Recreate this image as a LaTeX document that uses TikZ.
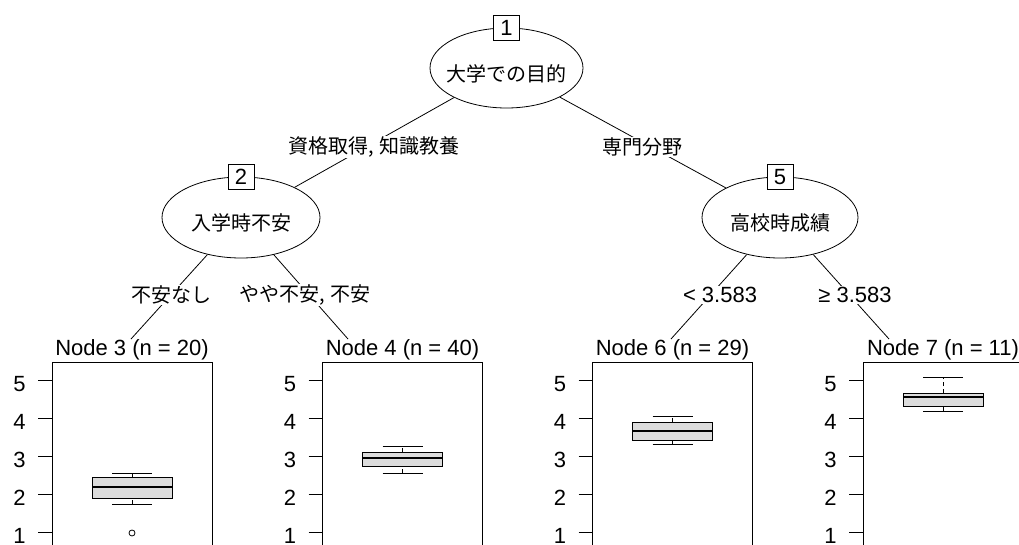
\documentclass[tikz,border=0pt]{standalone}
\usepackage{fontspec}
\setmainfont{Liberation Sans}
\newfontfamily\jp{Noto Sans CJK JP}
\usetikzlibrary{shapes.geometric}
\definecolor{boxgray}{RGB}{220,220,220}
\tikzset {
    split/.style={ellipse, draw, fill=white, inner sep=0pt,
        minimum width=156pt, minimum height=81pt,
        text height=26pt, text depth=0pt, font=\jp\fontsize{20}{24}\selectfont},
    idbox/.style={draw, fill=white, inner sep=0pt, minimum width=26pt,
        minimum height=25pt, font=\fontsize{22}{24}\selectfont},
    edgelab/.style={fill=white, inner sep=1pt},
    jplab/.style={edgelab, font=\jp\fontsize{20}{24}\selectfont},
    numlab/.style={edgelab, font=\fontsize{22}{24}\selectfont},
    paneltitle/.style={anchor=base, inner sep=0pt, font=\fontsize{22}{24}\selectfont},
    ticklab/.style={anchor=base east, inner sep=0pt, font=\fontsize{22}{24}\selectfont},
    whisk/.style={dash pattern=on 4pt off 3pt}
}
% terminal panel: name, centre x, title, lower whisker, q1, median, q3, upper whisker
\newcommand{\termpanel}[8]{%
    \node[paneltitle] (#1) at (#2,355) {#3};
    \draw ({#2-80},362) rectangle ({#2+80},560);
    \foreach \v in {1,...,5} {
        \draw ({#2-94},{570-38*\v}) -- ({#2-80},{570-38*\v});
        \node[ticklab] (#1y\v) at ({#2-106},{581-38*\v}) {\v};
    }
    \begin{scope}[shift={(#2,570)}, y=38pt]
        \draw[whisk] (0,#4) -- (0,#5) (0,#7) -- (0,#8);
        \draw (-20,#4) -- (20,#4) (-20,#8) -- (20,#8);
        \draw[fill=boxgray] (-40,#5) rectangle (40,#7);
        \draw[line width=2.5pt] (-40,#6) -- (40,#6);
    \end{scope}
}

\begin{document}
\begin{tikzpicture}[x=1pt, y=-1pt, line width=0.8pt]
    \useasboundingbox (0,0) rectangle (1019,544);

    \node[split, minimum width=153pt, minimum height=80pt] (n1) at (506.5,68) {\makebox[0pt]{大学での目的}};
    \node[split, minimum width=158pt] (n2) at (241,217.5) {\makebox[0pt]{入学時不安}};
    \node[split] (n5) at (780,217.5) {\makebox[0pt]{高校時成績}};

    \termpanel{t3}{132}{Node 3 (n = 20)}{1.737}{1.895}{2.184}{2.447}{2.553}
    \termpanel{t4}{402.5}{Node 4 (n = 40)}{2.553}{2.737}{2.947}{3.105}{3.263}
    \termpanel{t6}{672.5}{Node 6 (n = 29)}{3.316}{3.421}{3.658}{3.895}{4.053}
    \termpanel{t7}{943}{Node 7 (n = 11)}{4.184}{4.316}{4.553}{4.658}{5.079}
    \draw (132,{570-38*0.974}) circle (3pt);

    \coordinate (e3) at (131,339);
    \coordinate (e4) at (348,339);
    \coordinate (e6) at (671,339);
    \coordinate (e7) at (889,339);

    \draw
    (n1) -- (n2)
    (n1) -- (n5)
    (n2) -- (e3)
    (n2) -- (e4)
    (n5) -- (e6)
    (n5) -- (e7);

    \node[jplab] (l2) at (374,147) {資格取得, 知識教養};
    \node[jplab] (l5) at (642,147) {専門分野};
    \node[jplab] (l3) at (171,295) {不安なし};
    \node[jplab] (l4) at (305,295) {やや不安, 不安};
    \node[numlab] (l6) at (720,295) {< 3.583};
    \node[numlab] (l7) at (855,295) {≥ 3.583};

    \node[idbox] (b1) at (n1.north) {1};
    \node[idbox] (b2) at (n2.north) {2};
    \node[idbox] (b5) at (n5.north) {5};
\end{tikzpicture}
\end{document}
